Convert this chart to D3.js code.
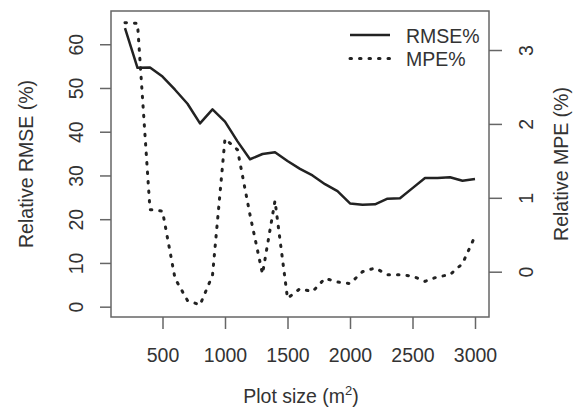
<!DOCTYPE html>
<html>
<head>
<meta charset="utf-8">
<script src="https://cdn.jsdelivr.net/npm/d3@7"></script>
<style>
  body { margin: 0; background: #fff; }
  svg text { font-family: "Liberation Sans", Arial, sans-serif; fill: #333; }
</style>
</head>
<body>
<div id="chart"></div>
<script>
// plot sizes (m2)
const plotSize = [200, 300, 400, 500, 600, 700, 800, 900, 1000, 1100, 1200, 1300, 1400, 1500,
    1600, 1700, 1800, 1900, 2000, 2100, 2200, 2300, 2400, 2500, 2600, 2700, 2800, 2900, 3000];
// relative RMSE (%)
const rmse = [63.7, 54.6, 54.7, 52.6, 49.6, 46.4, 41.9, 45.1, 42.3, 37.8, 33.7, 34.9, 35.3, 33.3,
    31.5, 30.0, 28.0, 26.4, 23.6, 23.3, 23.4, 24.7, 24.8, 27.1, 29.4, 29.4, 29.6, 28.8, 29.2];
// relative MPE (%)
const mpe = [3.37, 3.36, 0.84, 0.82, -0.09, -0.39, -0.45, -0.05, 1.80, 1.65, 0.77, -0.03, 0.96, -0.36,
    -0.23, -0.27, -0.09, -0.14, -0.16, 0.00, 0.05, -0.04, -0.04, -0.06, -0.13, -0.07, -0.04, 0.11, 0.48];

const xTicks = [500, 1000, 1500, 2000, 2500, 3000];
const leftTicks = [0, 10, 20, 30, 40, 50, 60];
const rightTicks = [0, 1, 2, 3];
const legendNames = ["RMSE%", "MPE%"];

const W = 573, H = 412;
const box = {left: 111, right: 489, top: 11, bottom: 317};
const fontSize = '19.5px';

const svg = d3.select('#chart').append('svg')
    .attr('width', W)
    .attr('height', H);

const x = d3.scaleLinear().domain([88, 3112]).range([box.left, box.right]);
const yL = d3.scaleLinear().domain([-2.36, 67.6]).range([box.bottom, box.top]);
const yR = d3.scaleLinear().domain([-0.613, 3.528]).range([box.bottom, box.top]);

const axisColor = "#666";

// axes
const gx = svg.append('g').attr('transform', `translate(0,${box.bottom})`)
    .call(d3.axisBottom(x).tickValues(xTicks).tickFormat(d3.format('d')).tickSize(12).tickSizeOuter(0));
gx.selectAll('text').attr('y', 45).attr('dy', 0);

const gl = svg.append('g').attr('transform', `translate(${box.left},0)`)
    .call(d3.axisLeft(yL).tickValues(leftTicks).tickFormat(d3.format('d')).tickSize(11).tickSizeOuter(0));
gl.selectAll('text')
    .attr('transform', 'rotate(-90)')
    .attr('x', 0).attr('y', -28).attr('dy', 0)
    .attr('text-anchor', 'middle');

const gr = svg.append('g').attr('transform', `translate(${box.right},0)`)
    .call(d3.axisRight(yR).tickValues(rightTicks).tickFormat(d3.format('d')).tickSize(13).tickSizeOuter(0));
gr.selectAll('text')
    .attr('transform', 'rotate(-90)')
    .attr('x', 0).attr('y', 44).attr('dy', 0)
    .attr('text-anchor', 'middle');

[gx, gl, gr].forEach(g => {
    g.select('.domain').remove();
    g.selectAll('line').attr('stroke', axisColor).attr('stroke-width', 1.5);
    g.selectAll('text').attr('font-size', fontSize).attr('fill', '#333')
        .attr('font-family', '"Liberation Sans", Arial, sans-serif');
});

// box
svg.append('rect')
    .attr('x', box.left).attr('y', box.top)
    .attr('width', box.right - box.left).attr('height', box.bottom - box.top)
    .attr('fill', 'none').attr('stroke', axisColor).attr('stroke-width', 1.5);

// lines
const lineL = d3.line().x((d, i) => x(plotSize[i])).y(d => yL(d));
const lineR = d3.line().x((d, i) => x(plotSize[i])).y(d => yR(d));

svg.append('path').datum(rmse)
    .attr('d', lineL)
    .attr('fill', 'none').attr('stroke', '#222').attr('stroke-width', 2.5)
    .attr('stroke-linejoin', 'round');

svg.append('path').datum(mpe)
    .attr('d', lineR)
    .attr('fill', 'none').attr('stroke', '#222').attr('stroke-width', 3)
    .attr('stroke-dasharray', '1.5,8').attr('stroke-linecap', 'round');

// legend
const leg = svg.append('g');
legendNames.forEach((name, i) => {
    const yy = 35 + i * 23.5;
    leg.append('line')
        .attr('x1', 350).attr('x2', 390).attr('y1', yy).attr('y2', yy)
        .attr('stroke', '#222').attr('stroke-width', i == 0 ? 2.5 : 3)
        .attr('stroke-dasharray', i == 0 ? null : '1.5,8')
        .attr('stroke-linecap', i == 0 ? 'butt' : 'round');
    leg.append('text')
        .attr('x', 406).attr('y', yy + 7.5)
        .attr('font-size', fontSize)
        .text(name);
});

// axis titles
const xt = svg.append('text')
    .attr('x', 301).attr('y', 403)
    .attr('text-anchor', 'middle')
    .attr('font-size', fontSize);
xt.append('tspan').text('Plot size (m');
xt.append('tspan').attr('font-size', '13px').attr('dy', -8).text('2');
xt.append('tspan').attr('dy', 8).text(')');

svg.append('text')
    .attr('transform', `translate(33,${(box.top + box.bottom) / 2}) rotate(-90)`)
    .attr('text-anchor', 'middle')
    .attr('font-size', fontSize)
    .text('Relative RMSE (%)');

svg.append('text')
    .attr('transform', `translate(568,${(box.top + box.bottom) / 2}) rotate(-90)`)
    .attr('text-anchor', 'middle')
    .attr('font-size', fontSize)
    .text('Relative MPE (%)');
</script>
</body>
</html>
